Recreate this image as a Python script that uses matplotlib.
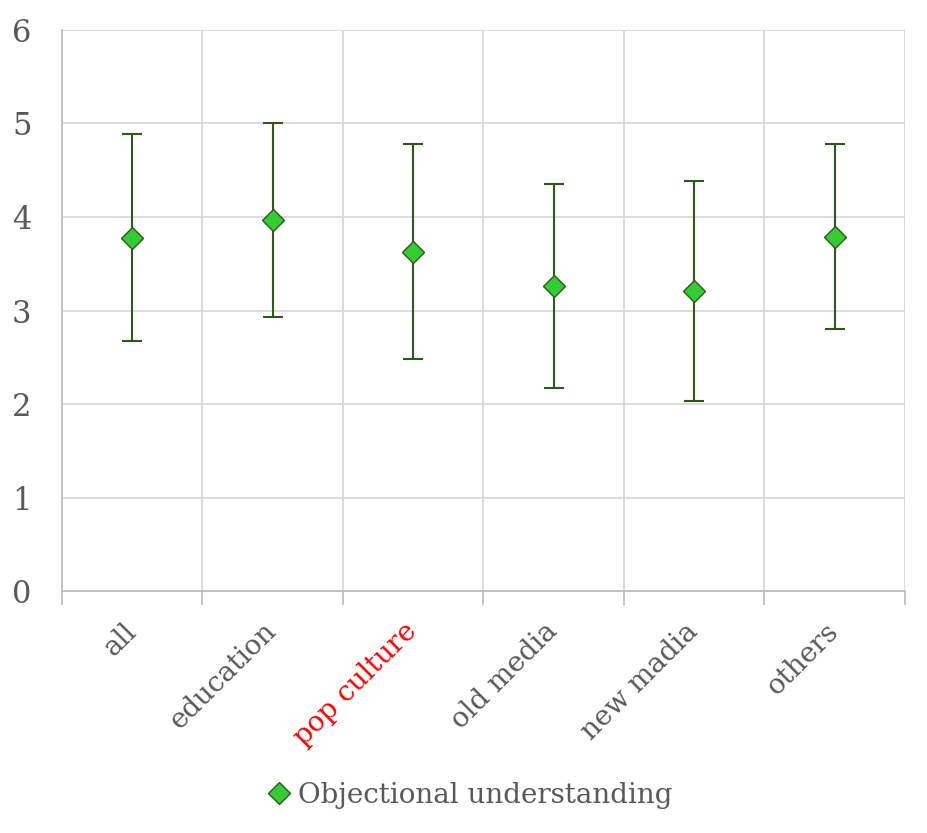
import matplotlib.pyplot as plt
import numpy as np
from matplotlib.lines import Line2D

categories = ['all', 'education', 'pop culture', 'old media', 'new madia', 'others']
means = [3.78, 3.97, 3.63, 3.26, 3.21, 3.79]
sds = [1.11, 1.04, 1.15, 1.09, 1.18, 0.99]
label_colors = ['#595959', '#595959', '#FF0000', '#595959', '#595959', '#595959']

plt.rcParams['font.family'] = ['DejaVu Serif']

fig = plt.figure(figsize=(9.28, 8.33), dpi=100)
ax = fig.add_axes([0.0668, 0.2905, 0.9082, 0.6735])

x = np.arange(len(categories)) + 0.5
ax.errorbar(x, means, yerr=sds, fmt='none', ecolor='#2C5A1A', elinewidth=1.5,
            capsize=7, capthick=1.5, zorder=3)
ax.plot(x, means, 'D', ms=11, mfc='#33CC33', mec='#2C5A1A', mew=1.0, ls='none',
        zorder=4)

ax.set_xlim(0, 6)
ax.set_ylim(0, 6)
ax.set_yticks(range(7))
ax.set_xticks(range(7))
ax.set_xticklabels([])
ax.set_xticks(x, minor=True)
ax.set_xticklabels(categories, minor=True, rotation=45, ha='right', va='center',
                   rotation_mode='anchor', fontsize=20)
for lbl, c in zip(ax.get_xticklabels(minor=True), label_colors):
    lbl.set_color(c)
ax.tick_params(axis='x', which='minor', length=0, pad=26)
ax.tick_params(axis='x', which='major', length=10, color='#BFBFBF', width=1.3)
ax.tick_params(axis='y', length=0, labelsize=22, labelcolor='#595959', pad=22)
for lbl in ax.get_yticklabels():
    lbl.set_color('#595959')

ax.grid(True, which='major', color='#D9D9D9', lw=1.3)
ax.set_axisbelow(True)
for s in ['top', 'right']:
    ax.spines[s].set_visible(False)
for s in ['left', 'bottom']:
    ax.spines[s].set_color('#BFBFBF')
    ax.spines[s].set_linewidth(1.3)

handle = Line2D([], [], marker='D', ms=11, mfc='#33CC33', mec='#2C5A1A', ls='none')
fig.legend([handle], ['Objectional understanding'], loc='center',
           bbox_to_anchor=(0.505, 0.045), frameon=False, fontsize=20,
           labelcolor='#595959', handlelength=1.0, handletextpad=0.2)

fig.savefig('out.png', dpi=100)
